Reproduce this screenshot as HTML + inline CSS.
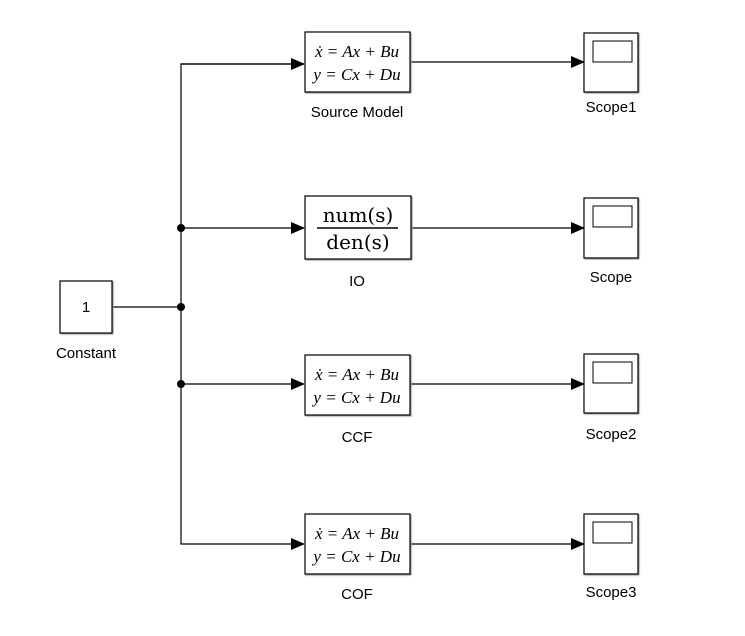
<!DOCTYPE html>
<html><head><style>body{margin:0;background:#fff}svg{display:block}</style></head><body>
<svg width="745" height="636" xmlns="http://www.w3.org/2000/svg" font-family="Liberation Sans, sans-serif">
<defs>
<marker id="a" markerWidth="14" markerHeight="12" refX="13" refY="6" orient="auto" markerUnits="userSpaceOnUse"><path d="M0,0 L14,6 L0,12 z" fill="#000"/></marker>
</defs>
<g stroke="#000" stroke-width="1.2" fill="none">
<line x1="112" y1="307" x2="181" y2="307"/>
<polyline points="304,64 181,64 181,544 304,544" marker-end="url(#a)"/>
<line x1="181" y1="64" x2="304" y2="64" marker-end="url(#a)"/>
<line x1="181" y1="228" x2="304" y2="228" marker-end="url(#a)"/>
<line x1="181" y1="384" x2="304" y2="384" marker-end="url(#a)"/>
<line x1="410" y1="62" x2="584" y2="62" marker-end="url(#a)"/>
<line x1="411" y1="228" x2="584" y2="228" marker-end="url(#a)"/>
<line x1="410" y1="384" x2="584" y2="384" marker-end="url(#a)"/>
<line x1="410" y1="544" x2="584" y2="544" marker-end="url(#a)"/>
</g>
<g fill="#000"><circle cx="181" cy="228" r="4"/><circle cx="181" cy="307" r="4"/><circle cx="181" cy="384" r="4"/></g>
<g fill="#fff" stroke="#000" stroke-width="1.2" style="filter:drop-shadow(1.5px 1.5px 0.5px #999)">
<rect x="60" y="281" width="52" height="52"/>
<rect x="305" y="32" width="105" height="60"/>
<rect x="305" y="196" width="106" height="63"/>
<rect x="305" y="355" width="105" height="60"/>
<rect x="305" y="514" width="105" height="60"/>
<rect x="584" y="33" width="54" height="59"/>
<rect x="584" y="198" width="54" height="60"/>
<rect x="584" y="354" width="54" height="59"/>
<rect x="584" y="514" width="54" height="60"/>
</g>
<g fill="none" stroke="#000" stroke-width="1">
<rect x="593" y="41" width="39" height="21"/>
<rect x="593" y="206" width="39" height="21"/>
<rect x="593" y="362" width="39" height="21"/>
<rect x="593" y="522" width="39" height="21"/>
</g>
<g font-size="15" text-anchor="middle">
<text x="86" y="312">1</text>
<text x="86" y="358">Constant</text>
<text x="357" y="117">Source Model</text>
<text x="357" y="286">IO</text>
<text x="357" y="442">CCF</text>
<text x="357" y="599">COF</text>
<text x="611" y="112">Scope1</text>
<text x="611" y="282">Scope</text>
<text x="611" y="439">Scope2</text>
<text x="611" y="597">Scope3</text>
</g>
<g font-family="Liberation Serif, serif" font-size="17" font-style="italic" text-anchor="middle">
<text x="357" y="57">ẋ = Ax + Bu</text><text x="357" y="80">y = Cx + Du</text>
<text x="357" y="380">ẋ = Ax + Bu</text><text x="357" y="403">y = Cx + Du</text>
<text x="357" y="539">ẋ = Ax + Bu</text><text x="357" y="562">y = Cx + Du</text>
</g>
<g font-family="DejaVu Serif, serif" font-size="20" text-anchor="middle">
<text x="358" y="222">num(s)</text>
<line x1="317" y1="228" x2="398" y2="228" stroke="#000" stroke-width="1.5"/>
<text x="358" y="249">den(s)</text>
</g>
</svg>
</body></html>
